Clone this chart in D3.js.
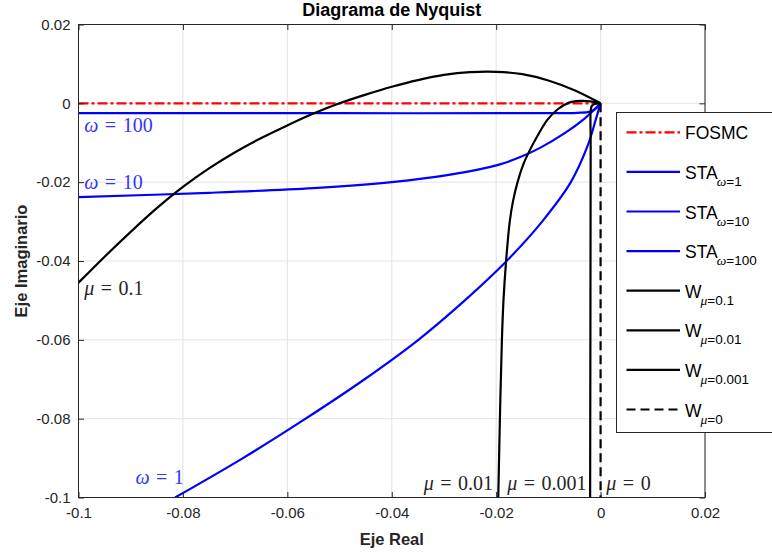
<!DOCTYPE html>
<html>
<head>
<meta charset="utf-8">
<script src="https://cdn.jsdelivr.net/npm/d3@7"></script>
<style>
  body { margin: 0; background: #fff; }
  text { font-family: "Liberation Sans", Arial, sans-serif; }
</style>
</head>
<body>
<svg id="chart" width="772" height="555"></svg>
<script>
// Axis ticks
const xTicks = [-0.1, -0.08, -0.06, -0.04, -0.02, 0, 0.02];
const yTicks = [-0.1, -0.08, -0.06, -0.04, -0.02, 0, 0.02];

// Nyquist loci, [real, imaginary]
const fosmc = [[-0.1, 0], [0, 0]];
const sta1 = [[0, 0], [-0.0009, -0.004], [-0.0024, -0.0105], [-0.0057, -0.02], [-0.0112, -0.03],
  [-0.018, -0.04], [-0.026, -0.05], [-0.0349, -0.06], [-0.0452, -0.07], [-0.0565, -0.08],
  [-0.0685, -0.09], [-0.0815, -0.1]];
const sta10 = [[0, 0], [-0.0012, -0.0016], [-0.003, -0.0038], [-0.0068, -0.0075], [-0.0116, -0.0113],
  [-0.0155, -0.0137], [-0.0196, -0.0156], [-0.0288, -0.0181], [-0.04, -0.02], [-0.055, -0.0215],
  [-0.075, -0.0227], [-0.1, -0.0238]];
const sta100 = [[0, 0], [-0.0008, -0.0012], [-0.002, -0.0021], [-0.0045, -0.0024], [-0.01, -0.0025],
  [-0.05, -0.0025], [-0.1, -0.0025]];
const w01 = [[0, 0], [-0.005, 0.0033], [-0.01, 0.0058], [-0.015, 0.0074], [-0.02, 0.008],
  [-0.025, 0.0079], [-0.03, 0.0072], [-0.035, 0.0059], [-0.04, 0.0042], [-0.045, 0.0022],
  [-0.05, 0.0], [-0.055, -0.0026], [-0.06, -0.0056], [-0.065, -0.0088], [-0.07, -0.0124],
  [-0.075, -0.0165], [-0.08, -0.0212], [-0.085, -0.0266], [-0.09, -0.0326], [-0.095, -0.0389],
  [-0.1, -0.0455]];
const w001 = [[0, 0], [-0.002, 0.0005], [-0.004, 0.0006], [-0.0062, 0.0001], [-0.0082, -0.0015],
  [-0.0102, -0.0042], [-0.0121, -0.0083], [-0.0136, -0.012], [-0.0148, -0.0155], [-0.0159, -0.02],
  [-0.0168, -0.025], [-0.0174, -0.03], [-0.0181, -0.04], [-0.0186, -0.05], [-0.0189, -0.06],
  [-0.0192, -0.075], [-0.0196, -0.1]];
const w0001 = [[0, 0], [-0.001, -0.0001], [-0.0017, -0.0007], [-0.0019, -0.002], [-0.0019, -0.01],
  [-0.002, -0.1]];
const w0 = [[0, 0], [0, -0.1]];

// Curve annotations: symbol, value, position, anchor, colour
const annotations = [
  { sym: "ω", val: "100", x: -0.0989, y: -0.0073, anchor: "start", color: "#3535ff" },
  { sym: "ω", val: "10", x: -0.0989, y: -0.0217, anchor: "start", color: "#3535ff" },
  { sym: "μ", val: "0.1", x: -0.0989, y: -0.0487, anchor: "start", color: "#262626" },
  { sym: "ω", val: "1", x: -0.0891, y: -0.0967, anchor: "start", color: "#3535ff" },
  { sym: "μ", val: "0.01", x: -0.0206, y: -0.098, anchor: "end", color: "#262626" },
  { sym: "μ", val: "0.001", x: -0.0027, y: -0.098, anchor: "end", color: "#262626" },
  { sym: "μ", val: "0", x: 0.0011, y: -0.098, anchor: "start", color: "#262626" }
];

// Legend entries
const legendNames = ["FOSMC", "STA", "STA", "STA", "W", "W", "W", "W"];
const legendSubs = [null, ["ω", "=1"], ["ω", "=10"], ["ω", "=100"], ["μ", "=0.1"], ["μ", "=0.01"], ["μ", "=0.001"], ["μ", "=0"]];

const series = [
  { data: fosmc, color: "#ff0000", dash: "10,3,3,3" },
  { data: sta1, color: "#0000ff", dash: null },
  { data: sta10, color: "#0000ff", dash: null },
  { data: sta100, color: "#0000ff", dash: null },
  { data: w01, color: "#000000", dash: null },
  { data: w001, color: "#000000", dash: null },
  { data: w0001, color: "#000000", dash: null },
  { data: w0, color: "#000000", dash: "9,5" }
];

const svg = d3.select("#chart");
const L = 78.5, R = 705, T = 24.5, B = 497.5;
const x = d3.scaleLinear().domain([-0.1, 0.02]).range([L, R]);
const y = d3.scaleLinear().domain([-0.1, 0.02]).range([B, T]);
const axisColor = "#262626";
const fmt = d => (Math.abs(d) < 1e-12 ? "0" : String(+d.toFixed(2)));

svg.append("rect").attr("x", L).attr("y", T).attr("width", R - L).attr("height", B - T).attr("fill", "#fff");

// grid
const grid = svg.append("g").attr("stroke", "#e3e3e3").attr("stroke-width", 1);
xTicks.forEach(t => grid.append("line").attr("x1", x(t)).attr("x2", x(t)).attr("y1", T).attr("y2", B));
yTicks.forEach(t => grid.append("line").attr("y1", y(t)).attr("y2", y(t)).attr("x1", L).attr("x2", R));

// curves
svg.append("clipPath").attr("id", "plotclip").append("rect")
  .attr("x", L).attr("y", T).attr("width", R - L).attr("height", B - T);
const line = d3.line().x(d => x(d[0])).y(d => y(d[1])).curve(d3.curveCatmullRom.alpha(0.5));
const plot = svg.append("g").attr("clip-path", "url(#plotclip)");
series.forEach(s => {
  plot.append("path").attr("d", line(s.data)).attr("fill", "none")
    .attr("stroke", s.color).attr("stroke-width", 2.2)
    .attr("stroke-dasharray", s.dash);
});

// axes (box with inward ticks)
const tl = 5.5;
const xb = d3.axisBottom(x).tickValues(xTicks).tickFormat(fmt).tickSizeInner(-tl).tickSizeOuter(0).tickPadding(10);
const xt = d3.axisTop(x).tickValues(xTicks).tickFormat("").tickSizeInner(-tl).tickSizeOuter(0);
const yl = d3.axisLeft(y).tickValues(yTicks).tickFormat(fmt).tickSizeInner(-tl).tickSizeOuter(0).tickPadding(8);
const yr = d3.axisRight(y).tickValues(yTicks).tickFormat("").tickSizeInner(-tl).tickSizeOuter(0);
function styleAxis(g) {
  g.select(".domain").remove();
  g.selectAll(".tick line").attr("stroke", axisColor);
  g.selectAll(".tick text").attr("fill", axisColor).style("font-size", "15px")
    .style("font-family", '"Liberation Sans", Arial, sans-serif');
}
svg.append("g").attr("transform", `translate(0,${B})`).call(xb).call(styleAxis);
svg.append("g").attr("transform", `translate(0,${T})`).call(xt).call(styleAxis);
svg.append("g").attr("transform", `translate(${L},0)`).call(yl).call(styleAxis);
svg.append("g").attr("transform", `translate(${R},0)`).call(yr).call(styleAxis);
svg.append("rect").attr("x", L).attr("y", T).attr("width", R - L).attr("height", B - T)
  .attr("fill", "none").attr("stroke", axisColor).attr("stroke-width", 1);

// annotations
annotations.forEach(a => {
  const t = svg.append("text").attr("x", x(a.x)).attr("y", y(a.y))
    .attr("text-anchor", a.anchor).attr("fill", a.color)
    .style("font-family", '"Liberation Serif", "DejaVu Serif", serif').style("font-size", "20px");
  t.append("tspan").attr("font-style", "italic").text(a.sym);
  t.append("tspan").attr("dx", 6.5).text("=");
  t.append("tspan").attr("dx", 6.5).text(a.val);
});

// titles
svg.append("text").attr("x", (L + R) / 2).attr("y", 16).attr("text-anchor", "middle")
  .attr("font-weight", "bold").style("font-size", "18px").attr("fill", "#000").text("Diagrama de Nyquist");
svg.append("text").attr("x", (L + R) / 2).attr("y", 545).attr("text-anchor", "middle")
  .attr("font-weight", "bold").style("font-size", "16.5px").attr("fill", axisColor).text("Eje Real");
svg.append("text").attr("transform", `translate(27,${(T + B) / 2}) rotate(-90)`).attr("text-anchor", "middle")
  .attr("font-weight", "bold").style("font-size", "16.5px").attr("fill", axisColor).text("Eje Imaginario");

// legend
const lg = svg.append("g");
lg.append("rect").attr("x", 616.5).attr("y", 112.5).attr("width", 200).attr("height", 320)
  .attr("fill", "#fff").attr("stroke", axisColor).attr("stroke-width", 1);
const rowY = i => 132.3 + i * 39.6;
series.forEach((s, i) => {
  const yy = rowY(i);
  lg.append("line").attr("x1", 626.5).attr("x2", 680).attr("y1", yy).attr("y2", yy)
    .attr("stroke", s.color).attr("stroke-width", 2.2).attr("stroke-dasharray", s.dash);
  const main = lg.append("text").attr("x", 685).attr("y", yy + 7).style("font-size", "17.5px")
    .attr("fill", "#000").text(legendNames[i]);
  const sub = legendSubs[i];
  if (sub) {
    const w = main.node().getComputedTextLength();
    const st = lg.append("text").attr("x", 685 + w - 1).attr("y", yy + 14).style("font-size", "13.5px").attr("fill", "#000");
    st.append("tspan").attr("font-style", "italic")
      .style("font-family", '"Liberation Serif", "DejaVu Serif", serif').text(sub[0]);
    st.append("tspan").text(sub[1]);
  }
});
</script>
</body>
</html>
